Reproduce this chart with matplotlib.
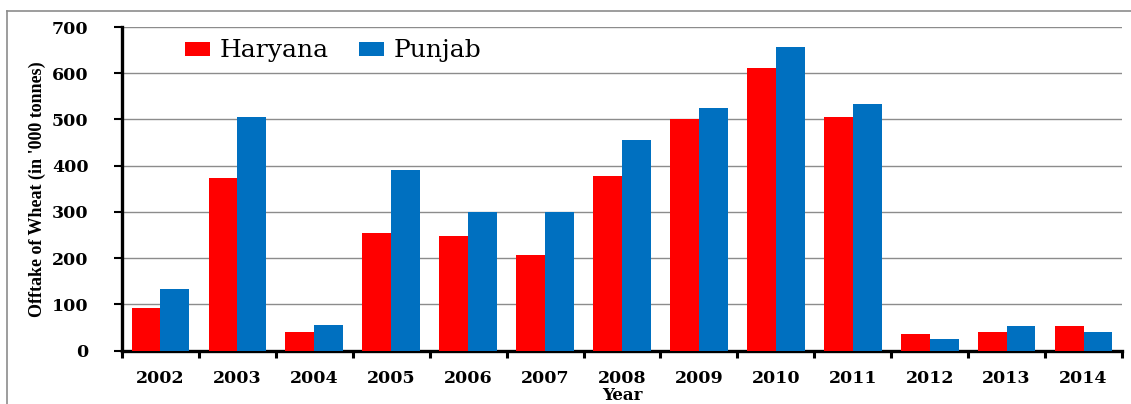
import matplotlib
matplotlib.use("Agg")
import matplotlib.pyplot as plt
import numpy as np
from matplotlib.lines import Line2D

years = ["2002", "2003", "2004", "2005", "2006", "2007", "2008",
         "2009", "2010", "2011", "2012", "2013", "2014"]
haryana = [92, 373, 40, 255, 248, 207, 378, 501, 611, 505, 36, 40, 53]
punjab = [133, 505, 56, 391, 300, 300, 456, 525, 657, 533, 25, 53, 40]
yticks = [0, 100, 200, 300, 400, 500, 600, 700]

fig = plt.figure(figsize=(11.31, 4.04), dpi=100)
ax = fig.add_axes([122 / 1131, 53.3 / 404, 1000 / 1131, 323.7 / 404])

x = np.arange(len(years))
w = 0.375
ax.bar(x - w / 2, haryana, w, color="#FF0000", label="Haryana", zorder=3)
ax.bar(x + w / 2, punjab, w, color="#0070C0", label="Punjab", zorder=3)

ax.set_xlim(-0.5, len(years) - 0.5)
ax.set_ylim(0, 700)
ax.set_yticks(yticks)
ax.set_yticklabels([str(v) for v in yticks], fontfamily="DejaVu Serif",
                   fontweight="bold", fontsize=12.5)
ax.yaxis.grid(True, color="#8C8C8C", linewidth=1.0, zorder=0)
ax.set_axisbelow(True)

ax.set_xticks(np.arange(-0.5, len(years), 1.0))
ax.set_xticklabels([])
ax.set_xticks(x, minor=True)
ax.set_xticklabels(years, minor=True, fontfamily="DejaVu Serif",
                   fontweight="bold", fontsize=12.5)
ax.tick_params(axis="x", which="major", direction="out", length=5, width=2.2, color="black")
ax.tick_params(axis="x", which="minor", length=0, pad=14)
ax.tick_params(axis="y", direction="out", length=6, width=1.5, color="black", pad=18)

for s in ["top", "right"]:
    ax.spines[s].set_visible(False)
ax.spines["left"].set_linewidth(2.4)
ax.spines["bottom"].set_linewidth(2.4)

ax.set_ylabel("Offtake of Wheat (in '000 tonnes)", fontfamily="Liberation Serif",
              fontweight="bold", fontsize=13, labelpad=4)
ax.set_xlabel("Year", fontfamily="DejaVu Serif", fontweight="bold", fontsize=12,
              labelpad=0)

leg = ax.legend(loc="upper left", bbox_to_anchor=(0.05, 1.0), frameon=False, ncol=2,
                prop={"family": "DejaVu Serif", "size": 18},
                handlelength=1.0, handleheight=0.5, handletextpad=0.4,
                columnspacing=1.2, borderaxespad=0.1)

# outer frame lines (figure border)
fig.add_artist(Line2D([7 / 1131, 7 / 1131], [0, 1 - 11 / 404],
                      transform=fig.transFigure, color="#8C8C8C", linewidth=1.2))
fig.add_artist(Line2D([7 / 1131, 1], [1 - 11 / 404, 1 - 11 / 404],
                      transform=fig.transFigure, color="#8C8C8C", linewidth=1.2))

fig.savefig("out.png", dpi=100)
